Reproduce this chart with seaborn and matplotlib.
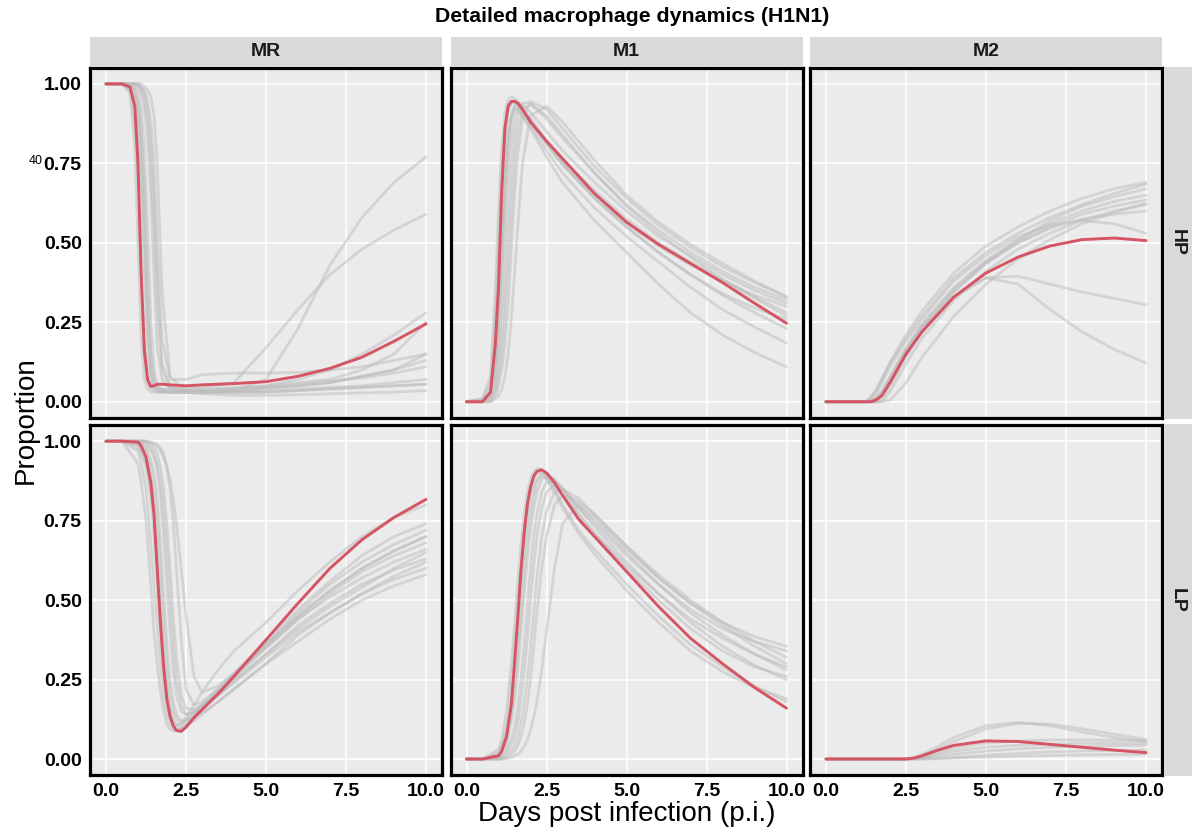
import numpy as np
import pandas as pd
import matplotlib.pyplot as plt
import seaborn as sns

# time grids (days p.i.), denser where the curves turn fast
days_hp = [0, 0.5, 0.75, 0.9, 1.0, 1.1, 1.2, 1.3, 1.4, 1.5, 1.6, 1.75, 2.0, 2.5, 3, 4, 5, 6, 7, 8, 9, 10]
days_lp = [0, 0.5, 1.0, 1.1, 1.25, 1.4, 1.5, 1.6, 1.7, 1.8, 1.9, 2.0, 2.1, 2.2, 2.35, 2.5, 2.75, 3.0, 3.5, 4, 5, 6, 7, 8, 9, 10]

groups = ['HP', 'LP']
cells = ['MR', 'M1', 'M2']

# ---- HP / MR
hp_mr_best = [1.0, 1.0, 0.99, 0.93, 0.75, 0.4, 0.16, 0.07, 0.048, 0.05, 0.055, 0.055, 0.053, 0.05, 0.053, 0.057, 0.063, 0.08, 0.105, 0.14, 0.19, 0.245]
hp_mr_runs = [
    [1.0, 1.0, 0.97, 0.8, 0.5, 0.2, 0.07, 0.04, 0.03, 0.03, 0.03, 0.03, 0.03, 0.03, 0.03, 0.03, 0.035, 0.04, 0.045, 0.05, 0.06, 0.07],
    [1.0, 1.0, 0.99, 0.95, 0.88, 0.7, 0.4, 0.15, 0.06, 0.04, 0.035, 0.03, 0.03, 0.03, 0.03, 0.035, 0.04, 0.05, 0.06, 0.08, 0.1, 0.13],
    [1.0, 1.0, 1.0, 0.99, 0.97, 0.92, 0.8, 0.55, 0.25, 0.1, 0.05, 0.04, 0.035, 0.03, 0.03, 0.03, 0.03, 0.035, 0.04, 0.045, 0.05, 0.055],
    [1.0, 1.0, 1.0, 1.0, 0.99, 0.97, 0.92, 0.82, 0.65, 0.4, 0.17, 0.07, 0.04, 0.035, 0.035, 0.04, 0.045, 0.05, 0.06, 0.08, 0.1, 0.15],
    [1.0, 1.0, 1.0, 1.0, 1.0, 0.99, 0.97, 0.92, 0.82, 0.65, 0.4, 0.12, 0.05, 0.04, 0.04, 0.045, 0.05, 0.06, 0.07, 0.1, 0.15, 0.25],
    [1.0, 1.0, 1.0, 1.0, 1.0, 0.99, 0.98, 0.95, 0.88, 0.75, 0.5, 0.2, 0.07, 0.07, 0.085, 0.09, 0.09, 0.092, 0.1, 0.11, 0.13, 0.15],
    [1.0, 1.0, 0.99, 0.96, 0.9, 0.75, 0.5, 0.25, 0.1, 0.05, 0.04, 0.035, 0.03, 0.03, 0.03, 0.035, 0.07, 0.23, 0.43, 0.58, 0.69, 0.77],
    [1.0, 1.0, 1.0, 0.98, 0.94, 0.85, 0.65, 0.38, 0.16, 0.07, 0.045, 0.04, 0.04, 0.04, 0.045, 0.06, 0.17, 0.29, 0.4, 0.48, 0.54, 0.59],
    [1.0, 1.0, 0.98, 0.88, 0.7, 0.4, 0.15, 0.06, 0.04, 0.035, 0.03, 0.03, 0.03, 0.03, 0.035, 0.04, 0.05, 0.07, 0.1, 0.15, 0.21, 0.28],
    [1.0, 1.0, 1.0, 1.0, 1.0, 1.0, 0.99, 0.98, 0.96, 0.9, 0.75, 0.35, 0.08, 0.03, 0.025, 0.02, 0.02, 0.022, 0.025, 0.028, 0.03, 0.035],
    [1.0, 1.0, 1.0, 0.98, 0.94, 0.85, 0.62, 0.3, 0.1, 0.05, 0.04, 0.035, 0.03, 0.03, 0.03, 0.035, 0.045, 0.055, 0.065, 0.075, 0.09, 0.11],
    [1.0, 1.0, 1.0, 1.0, 0.995, 0.98, 0.95, 0.88, 0.75, 0.55, 0.3, 0.1, 0.045, 0.035, 0.03, 0.03, 0.03, 0.035, 0.04, 0.045, 0.05, 0.055],
]

# ---- HP / M1
hp_m1_best = [0.0, 0.0, 0.03, 0.18, 0.36, 0.66, 0.86, 0.93, 0.945, 0.945, 0.94, 0.92, 0.88, 0.82, 0.765, 0.655, 0.565, 0.495, 0.435, 0.375, 0.31, 0.247]
hp_m1_runs = [
    [0, 0.01, 0.08, 0.35, 0.6, 0.8, 0.91, 0.95, 0.96, 0.955, 0.945, 0.92, 0.88, 0.81, 0.75, 0.65, 0.56, 0.49, 0.43, 0.38, 0.335, 0.3],
    [0, 0.005, 0.04, 0.2, 0.4, 0.65, 0.82, 0.91, 0.94, 0.945, 0.94, 0.92, 0.89, 0.82, 0.76, 0.665, 0.575, 0.5, 0.44, 0.385, 0.33, 0.28],
    [0, 0, 0.02, 0.08, 0.2, 0.4, 0.62, 0.8, 0.89, 0.93, 0.94, 0.935, 0.91, 0.85, 0.79, 0.69, 0.6, 0.52, 0.46, 0.4, 0.35, 0.31],
    [0, 0, 0.01, 0.04, 0.1, 0.2, 0.35, 0.55, 0.72, 0.84, 0.9, 0.94, 0.94, 0.89, 0.83, 0.72, 0.62, 0.54, 0.47, 0.41, 0.36, 0.32],
    [0, 0, 0, 0.02, 0.05, 0.1, 0.18, 0.3, 0.48, 0.65, 0.78, 0.89, 0.945, 0.92, 0.86, 0.74, 0.64, 0.555, 0.485, 0.425, 0.375, 0.33],
    [0, 0.01, 0.06, 0.28, 0.5, 0.72, 0.86, 0.92, 0.94, 0.94, 0.93, 0.9, 0.86, 0.77, 0.69, 0.57, 0.47, 0.37, 0.28, 0.21, 0.155, 0.11],
    [0, 0, 0.03, 0.12, 0.28, 0.5, 0.7, 0.84, 0.9, 0.92, 0.92, 0.9, 0.865, 0.79, 0.72, 0.61, 0.52, 0.44, 0.36, 0.29, 0.235, 0.185],
    [0, 0, 0.015, 0.06, 0.15, 0.3, 0.5, 0.7, 0.83, 0.9, 0.925, 0.92, 0.89, 0.82, 0.75, 0.64, 0.55, 0.47, 0.4, 0.335, 0.28, 0.23],
    [0, 0, 0.005, 0.03, 0.07, 0.14, 0.26, 0.42, 0.6, 0.75, 0.85, 0.92, 0.935, 0.9, 0.84, 0.72, 0.615, 0.53, 0.455, 0.385, 0.325, 0.27],
    [0, 0, 0, 0.01, 0.02, 0.04, 0.08, 0.15, 0.26, 0.4, 0.55, 0.75, 0.9, 0.93, 0.88, 0.76, 0.65, 0.565, 0.495, 0.435, 0.38, 0.33],
    [0, 0, 0.02, 0.1, 0.25, 0.47, 0.68, 0.83, 0.9, 0.93, 0.93, 0.915, 0.88, 0.81, 0.745, 0.64, 0.55, 0.47, 0.4, 0.34, 0.295, 0.26],
]

# ---- HP / M2
hp_m2_best = [0, 0, 0, 0, 0, 0, 0, 0, 0, 0.003, 0.008, 0.02, 0.06, 0.15, 0.22, 0.33, 0.405, 0.455, 0.49, 0.51, 0.515, 0.507]
hp_m2_runs = [
    [0, 0, 0, 0, 0, 0, 0, 0.005, 0.015, 0.03, 0.045, 0.075, 0.12, 0.2, 0.27, 0.39, 0.47, 0.53, 0.58, 0.62, 0.655, 0.685],
    [0, 0, 0, 0, 0, 0, 0, 0, 0, 0.005, 0.015, 0.035, 0.08, 0.17, 0.245, 0.36, 0.445, 0.51, 0.56, 0.6, 0.63, 0.65],
    [0, 0, 0, 0, 0, 0, 0, 0, 0, 0, 0.005, 0.02, 0.06, 0.15, 0.23, 0.35, 0.435, 0.5, 0.55, 0.59, 0.615, 0.635],
    [0, 0, 0, 0, 0, 0, 0, 0, 0, 0, 0, 0, 0.03, 0.12, 0.2, 0.32, 0.41, 0.48, 0.53, 0.57, 0.6, 0.62],
    [0, 0, 0, 0, 0, 0, 0, 0, 0, 0, 0, 0, 0.005, 0.06, 0.14, 0.27, 0.37, 0.45, 0.51, 0.56, 0.595, 0.625],
    [0, 0, 0, 0, 0, 0, 0, 0, 0, 0.005, 0.012, 0.03, 0.07, 0.16, 0.235, 0.33, 0.39, 0.395, 0.37, 0.345, 0.325, 0.305],
    [0, 0, 0, 0, 0, 0, 0, 0, 0, 0.004, 0.01, 0.028, 0.068, 0.158, 0.232, 0.33, 0.39, 0.37, 0.29, 0.22, 0.165, 0.122],
    [0, 0, 0, 0, 0, 0, 0, 0, 0.005, 0.015, 0.03, 0.06, 0.11, 0.19, 0.26, 0.38, 0.46, 0.52, 0.555, 0.57, 0.56, 0.53],
    [0, 0, 0, 0, 0, 0, 0, 0, 0, 0, 0, 0.01, 0.045, 0.14, 0.22, 0.345, 0.435, 0.51, 0.57, 0.615, 0.645, 0.67],
    [0, 0, 0, 0, 0, 0, 0, 0, 0, 0.002, 0.01, 0.03, 0.075, 0.165, 0.24, 0.355, 0.44, 0.5, 0.545, 0.575, 0.59, 0.6],
    [0, 0, 0, 0, 0, 0, 0, 0.003, 0.012, 0.025, 0.04, 0.07, 0.125, 0.21, 0.285, 0.405, 0.49, 0.55, 0.6, 0.64, 0.67, 0.69],
]

# ---- LP / MR
lp_mr_best = [1.0, 1.0, 0.997, 0.985, 0.95, 0.87, 0.77, 0.6, 0.43, 0.29, 0.19, 0.135, 0.105, 0.09, 0.087, 0.1, 0.13, 0.155, 0.205, 0.26, 0.375, 0.49, 0.6, 0.69, 0.76, 0.817]
lp_mr_runs = [
    [1, 1, 0.97, 0.93, 0.85, 0.68, 0.55, 0.42, 0.3, 0.2, 0.14, 0.11, 0.095, 0.09, 0.095, 0.105, 0.13, 0.155, 0.2, 0.245, 0.33, 0.41, 0.48, 0.54, 0.6, 0.65],
    [1, 1, 0.98, 0.96, 0.92, 0.82, 0.7, 0.55, 0.4, 0.27, 0.18, 0.13, 0.11, 0.105, 0.11, 0.13, 0.17, 0.21, 0.28, 0.34, 0.43, 0.53, 0.62, 0.7, 0.76, 0.8],
    [1, 1, 0.99, 0.98, 0.95, 0.88, 0.8, 0.66, 0.5, 0.35, 0.23, 0.16, 0.12, 0.11, 0.11, 0.12, 0.145, 0.17, 0.22, 0.27, 0.36, 0.45, 0.53, 0.6, 0.655, 0.7],
    [1, 1, 1, 0.995, 0.98, 0.94, 0.9, 0.82, 0.68, 0.52, 0.37, 0.25, 0.18, 0.14, 0.12, 0.125, 0.14, 0.16, 0.2, 0.24, 0.32, 0.4, 0.46, 0.52, 0.565, 0.6],
    [1, 1, 1, 1, 0.99, 0.97, 0.95, 0.91, 0.83, 0.7, 0.55, 0.4, 0.28, 0.2, 0.15, 0.14, 0.15, 0.17, 0.21, 0.26, 0.35, 0.44, 0.52, 0.59, 0.64, 0.68],
    [1, 1, 1, 1, 1, 0.99, 0.98, 0.96, 0.92, 0.85, 0.74, 0.6, 0.45, 0.32, 0.2, 0.16, 0.155, 0.17, 0.205, 0.25, 0.33, 0.42, 0.49, 0.55, 0.595, 0.63],
    [1, 1, 1, 1, 1, 0.995, 0.99, 0.985, 0.97, 0.95, 0.92, 0.88, 0.82, 0.74, 0.6, 0.45, 0.26, 0.21, 0.23, 0.27, 0.37, 0.47, 0.56, 0.64, 0.7, 0.74],
    [1, 1, 0.93, 0.87, 0.75, 0.55, 0.4, 0.3, 0.21, 0.15, 0.11, 0.095, 0.088, 0.09, 0.095, 0.105, 0.12, 0.14, 0.18, 0.22, 0.3, 0.37, 0.44, 0.5, 0.545, 0.58],
    [1, 1, 1, 1, 1, 0.998, 0.995, 0.99, 0.98, 0.96, 0.92, 0.85, 0.75, 0.6, 0.38, 0.22, 0.17, 0.18, 0.22, 0.265, 0.36, 0.45, 0.53, 0.6, 0.655, 0.7],
    [1, 1, 0.99, 0.97, 0.93, 0.85, 0.76, 0.6, 0.45, 0.31, 0.21, 0.15, 0.12, 0.105, 0.1, 0.11, 0.135, 0.16, 0.21, 0.26, 0.35, 0.44, 0.51, 0.57, 0.62, 0.66],
    [1, 1, 1, 1, 0.995, 0.98, 0.96, 0.93, 0.87, 0.78, 0.65, 0.5, 0.36, 0.25, 0.17, 0.14, 0.145, 0.165, 0.21, 0.26, 0.36, 0.46, 0.55, 0.62, 0.675, 0.72],
    [1, 1, 1, 0.99, 0.97, 0.92, 0.86, 0.76, 0.6, 0.44, 0.3, 0.2, 0.15, 0.125, 0.115, 0.12, 0.13, 0.145, 0.18, 0.22, 0.3, 0.39, 0.46, 0.52, 0.575, 0.62],
]

# ---- LP / M1
lp_m1_best = [0, 0, 0.01, 0.025, 0.07, 0.17, 0.3, 0.44, 0.59, 0.71, 0.8, 0.855, 0.89, 0.905, 0.91, 0.9, 0.87, 0.83, 0.755, 0.7, 0.59, 0.48, 0.38, 0.3, 0.225, 0.16]
lp_m1_runs = [
    [0, 0, 0.03, 0.06, 0.15, 0.3, 0.42, 0.55, 0.67, 0.77, 0.84, 0.88, 0.905, 0.915, 0.91, 0.89, 0.85, 0.8, 0.72, 0.66, 0.55, 0.45, 0.36, 0.29, 0.23, 0.18],
    [0, 0, 0.015, 0.035, 0.08, 0.18, 0.28, 0.4, 0.53, 0.65, 0.75, 0.82, 0.86, 0.88, 0.89, 0.885, 0.86, 0.83, 0.77, 0.71, 0.61, 0.52, 0.44, 0.38, 0.33, 0.29],
    [0, 0, 0.01, 0.02, 0.05, 0.12, 0.18, 0.28, 0.4, 0.52, 0.63, 0.72, 0.79, 0.84, 0.88, 0.89, 0.88, 0.85, 0.79, 0.74, 0.64, 0.55, 0.47, 0.41, 0.37, 0.34],
    [0, 0, 0.005, 0.012, 0.03, 0.065, 0.1, 0.16, 0.25, 0.36, 0.48, 0.6, 0.7, 0.77, 0.84, 0.87, 0.87, 0.85, 0.79, 0.73, 0.62, 0.52, 0.43, 0.355, 0.295, 0.25],
    [0, 0, 0, 0.004, 0.01, 0.025, 0.04, 0.07, 0.11, 0.17, 0.25, 0.35, 0.46, 0.57, 0.7, 0.78, 0.84, 0.85, 0.82, 0.77, 0.67, 0.58, 0.5, 0.43, 0.37, 0.32],
    [0, 0, 0, 0, 0, 0.005, 0.01, 0.015, 0.025, 0.04, 0.06, 0.09, 0.13, 0.18, 0.28, 0.4, 0.6, 0.74, 0.8, 0.76, 0.66, 0.57, 0.49, 0.43, 0.385, 0.355],
    [0, 0, 0.02, 0.045, 0.1, 0.24, 0.35, 0.48, 0.6, 0.71, 0.79, 0.85, 0.88, 0.9, 0.9, 0.88, 0.84, 0.79, 0.71, 0.645, 0.53, 0.43, 0.34, 0.275, 0.225, 0.19],
    [0, 0, 0, 0.006, 0.02, 0.045, 0.07, 0.11, 0.18, 0.27, 0.38, 0.5, 0.61, 0.7, 0.79, 0.84, 0.86, 0.85, 0.8, 0.75, 0.65, 0.55, 0.46, 0.39, 0.33, 0.28],
    [0, 0, 0.01, 0.025, 0.06, 0.14, 0.22, 0.33, 0.46, 0.58, 0.69, 0.77, 0.83, 0.87, 0.9, 0.9, 0.88, 0.85, 0.77, 0.71, 0.6, 0.5, 0.41, 0.34, 0.29, 0.26],
    [0, 0, 0, 0, 0.005, 0.015, 0.025, 0.04, 0.07, 0.11, 0.17, 0.25, 0.35, 0.46, 0.6, 0.7, 0.8, 0.83, 0.81, 0.77, 0.67, 0.57, 0.49, 0.42, 0.355, 0.3],
]

# ---- LP / M2
lp_m2_best = [0, 0, 0, 0, 0, 0, 0, 0, 0, 0, 0, 0, 0, 0, 0, 0, 0.003, 0.01, 0.028, 0.043, 0.057, 0.055, 0.046, 0.037, 0.028, 0.02]
lp_m2_runs = [
    [0, 0, 0, 0, 0, 0, 0, 0, 0, 0, 0, 0, 0, 0, 0, 0, 0.005, 0.015, 0.04, 0.068, 0.105, 0.115, 0.105, 0.085, 0.068, 0.055],
    [0, 0, 0, 0, 0, 0, 0, 0, 0, 0, 0, 0, 0, 0, 0, 0, 0.003, 0.01, 0.03, 0.055, 0.095, 0.112, 0.11, 0.095, 0.078, 0.062],
    [0, 0, 0, 0, 0, 0, 0, 0, 0, 0, 0, 0, 0, 0, 0, 0, 0.002, 0.005, 0.015, 0.025, 0.037, 0.043, 0.047, 0.05, 0.05, 0.05],
    [0, 0, 0, 0, 0, 0, 0, 0, 0, 0, 0, 0, 0, 0, 0, 0, 0, 0.002, 0.008, 0.015, 0.025, 0.032, 0.037, 0.04, 0.042, 0.043],
    [0, 0, 0, 0, 0, 0, 0, 0, 0, 0, 0, 0, 0, 0, 0, 0, 0, 0, 0.002, 0.005, 0.012, 0.018, 0.022, 0.025, 0.027, 0.028],
    [0, 0, 0, 0, 0, 0, 0, 0, 0, 0, 0, 0, 0, 0, 0, 0, 0, 0, 0.001, 0.003, 0.006, 0.009, 0.011, 0.013, 0.014, 0.015],
    [0, 0, 0, 0, 0, 0, 0, 0, 0, 0, 0, 0, 0, 0, 0, 0, 0.002, 0.005, 0.02, 0.035, 0.05, 0.057, 0.06, 0.06, 0.059, 0.058],
]

x_ticks = [0, 2.5, 5, 7.5, 10]
y_ticks = [0, 0.25, 0.5, 0.75, 1.0]

panels = [
    ('HP', 'MR', days_hp, hp_mr_runs, hp_mr_best),
    ('HP', 'M1', days_hp, hp_m1_runs, hp_m1_best),
    ('HP', 'M2', days_hp, hp_m2_runs, hp_m2_best),
    ('LP', 'MR', days_lp, lp_mr_runs, lp_mr_best),
    ('LP', 'M1', days_lp, lp_m1_runs, lp_m1_best),
    ('LP', 'M2', days_lp, lp_m2_runs, lp_m2_best),
]

parts = []
for grp, cell, days, runs, best in panels:
    for i, run in enumerate(runs):
        parts.append(pd.DataFrame({'group': grp, 'cell': cell, 'run': i, 'kind': 'sim',
                                   'day': days, 'value': run}))
    parts.append(pd.DataFrame({'group': grp, 'cell': cell, 'run': -1, 'kind': 'best',
                               'day': days, 'value': best}))
df = pd.concat(parts, ignore_index=True)

sns.set_theme(style='darkgrid', rc={'axes.facecolor': '#EBEBEB', 'grid.color': 'white'})
plt.rcParams['font.family'] = ['Liberation Sans', 'DejaVu Sans']

RED = '#D55465'
GRAY = '#BDBDBD'
STRIP = '#D9D9D9'

W, H = 1192, 832
def box(x0, y0, w, h):
    return [x0 / W, 1 - (y0 + h) / H, w / W, h / H]

fig = plt.figure(figsize=(W / 100, H / 100), dpi=100)
fig.patch.set_facecolor('white')

col_left = [90, 450.5, 810]
row_top = [68, 425.3]
pw, ph = 352, 349.6

for ri, grp in enumerate(groups):
    for ci, cell in enumerate(cells):
        ax = fig.add_axes(box(col_left[ci], row_top[ri], pw, ph))
        sub = df[(df['group'] == grp) & (df['cell'] == cell)]
        sns.lineplot(data=sub[sub['kind'] == 'sim'], x='day', y='value', units='run',
                     estimator=None, color=GRAY, alpha=0.5, lw=2.0, ax=ax, legend=False)
        sns.lineplot(data=sub[sub['kind'] == 'best'], x='day', y='value',
                     color=RED, lw=2.1, ax=ax, legend=False)
        ax.set_xlim(-0.5, 10.5)
        ax.set_ylim(-0.05, 1.05)
        ax.set_xlabel('')
        ax.set_ylabel('')
        ax.grid(True, color='white', lw=1.1)
        for s in ax.spines.values():
            s.set_visible(True)
            s.set_color('black')
            s.set_linewidth(2.3)
        ax.tick_params(axis='both', length=4, width=1, color='#333333', pad=2,
                       labelsize=14, labelcolor='black')
        if ri == 1:
            ax.set_xticks(x_ticks, labels=[f'{v:.1f}' for v in x_ticks], fontweight='bold')
        else:
            ax.set_xticks(x_ticks)
            ax.tick_params(axis='x', length=0, labelbottom=False)
        if ci == 0:
            ax.set_yticks(y_ticks, labels=[f'{v:.2f}' for v in y_ticks], fontweight='bold')
        else:
            ax.set_yticks(y_ticks)
            ax.tick_params(axis='y', length=0, labelleft=False)

        # column strip
        if ri == 0:
            st = fig.add_axes(box(col_left[ci], 37, pw, 29.5))
            st.set_facecolor(STRIP)
            st.set_xticks([]); st.set_yticks([])
            for s in st.spines.values():
                s.set_visible(False)
            st.text(0.5, 0.5, cell, ha='center', va='center', fontsize=14,
                    fontweight='bold', color='#1A1A1A', transform=st.transAxes)
        # row strip
        if ci == 2:
            st = fig.add_axes(box(1163.5, row_top[ri] - 1, 28.5, ph + 2))
            st.set_facecolor(STRIP)
            st.set_xticks([]); st.set_yticks([])
            for s in st.spines.values():
                s.set_visible(False)
            st.text(0.5, 0.5, grp, ha='center', va='center', fontsize=14, rotation=-90,
                    fontweight='bold', color='#1A1A1A', transform=st.transAxes)

fig.text(632 / W, 1 - 17 / H, 'Detailed macrophage dynamics (H1N1)', ha='center', va='center',
         fontsize=15.3, fontweight='bold', color='black')
fig.text(26 / W, 1 - 420 / H, 'Proportion', ha='center', va='center', rotation=90,
         fontsize=20, color='black')
fig.text(627 / W, 1 - 814 / H, 'Days post infection (p.i.)', ha='center', va='center',
         fontsize=20, color='black')
# stray label seen left of the 0.75 tick in the original
fig.text(42.5 / W, 1 - 161 / H, '40', ha='right', va='center', fontsize=9, color='black')

fig.savefig('out.png', dpi=100)
